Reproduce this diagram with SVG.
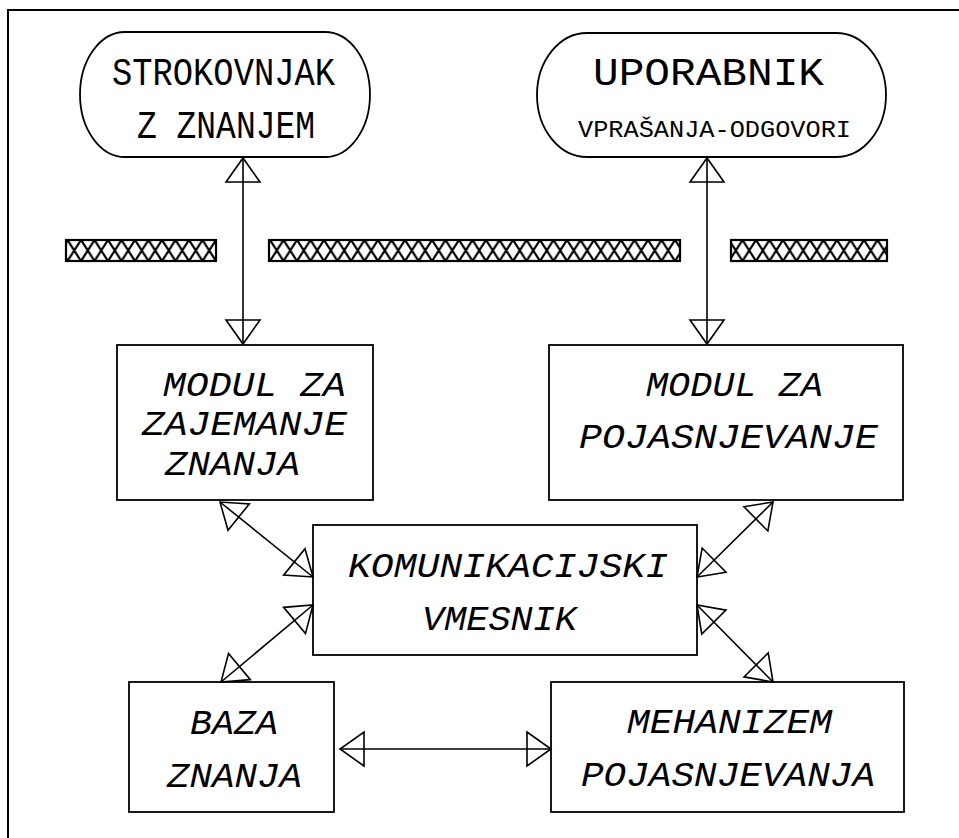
<svg xmlns="http://www.w3.org/2000/svg" width="959" height="838" viewBox="0 0 959 838">
<style>
.frame{fill:none;stroke:#000;stroke-width:2}
.box{fill:#fff;stroke:#000;stroke-width:1.8}
.t{font-family:"Liberation Mono","DejaVu Sans Mono",monospace;fill:#000}
.up{font-size:38px}
.sm{font-size:23px}
.it{font-size:35px;font-style:italic}
.con{stroke:#000;stroke-width:1.6;fill:none;marker-start:url(#tri);marker-end:url(#tri)}
.bar{fill:url(#hatch);stroke:#000;stroke-width:2.2}
</style>
<defs>
<marker id="tri" markerUnits="userSpaceOnUse" markerWidth="28" markerHeight="38" viewBox="-26 -19 28 38" refX="0" refY="0" orient="auto-start-reverse" overflow="visible">
<path d="M-24,-17 L0,0 L-24,17 Z" fill="none" stroke="#000" stroke-width="1.6" stroke-linejoin="miter"/>
</marker>
<pattern id="hatch" patternUnits="userSpaceOnUse" x="0" y="240" width="13.5" height="21">
<rect width="13.5" height="21" fill="#fff"/>
<path d="M0,0 L13.5,21 M13.5,0 L0,21" stroke="#000" stroke-width="2.2"/>
</pattern>
</defs>
<rect width="959" height="838" fill="#fff"/>
<g id="frame">
<path class="frame" d="M8,838 L8,10 L959,10"/>
</g>
<g id="barriers">
<rect class="bar" x="66" y="240" width="150" height="21"/>
<rect class="bar" x="269" y="240" width="411" height="21"/>
<rect class="bar" x="731" y="240" width="156" height="21"/>
</g>
<g id="strokovnjak">
<rect class="box" x="80" y="32" width="290" height="125" rx="45" ry="62.5"/>
<text class="t up" x="112" y="85" textLength="223" lengthAdjust="spacingAndGlyphs">STROKOVNJAK</text>
<text class="t up" x="137" y="138" textLength="178" lengthAdjust="spacingAndGlyphs">Z ZNANJEM</text>
</g>
<g id="uporabnik">
<rect class="box" x="537" y="33" width="349" height="124" rx="50" ry="62"/>
<text class="t up" x="593" y="85" textLength="231" lengthAdjust="spacingAndGlyphs">UPORABNIK</text>
<text class="t sm" x="578" y="137" textLength="273" lengthAdjust="spacingAndGlyphs">VPRAŠANJA-ODGOVORI</text>
</g>
<g id="modul-zajemanje">
<rect class="box" x="117" y="345" width="256" height="155"/>
<text class="t it" x="163" y="396" textLength="183" lengthAdjust="spacingAndGlyphs">MODUL ZA</text>
<text class="t it" x="142" y="435" textLength="205" lengthAdjust="spacingAndGlyphs">ZAJEMANJE</text>
<text class="t it" x="165" y="475" textLength="135" lengthAdjust="spacingAndGlyphs">ZNANJA</text>
</g>
<g id="modul-pojasnjevanje">
<rect class="box" x="549" y="345" width="354" height="155"/>
<text class="t it" x="646" y="396" textLength="177" lengthAdjust="spacingAndGlyphs">MODUL ZA</text>
<text class="t it" x="579" y="448" textLength="299" lengthAdjust="spacingAndGlyphs">POJASNJEVANJE</text>
</g>
<g id="komunikacijski-vmesnik">
<rect class="box" x="313" y="525" width="384" height="130"/>
<text class="t it" x="348" y="577" textLength="320" lengthAdjust="spacingAndGlyphs">KOMUNIKACIJSKI</text>
<text class="t it" x="422" y="630" textLength="155" lengthAdjust="spacingAndGlyphs">VMESNIK</text>
</g>
<g id="baza-znanja">
<rect class="box" x="129" y="682" width="205" height="130"/>
<text class="t it" x="190" y="734" textLength="88" lengthAdjust="spacingAndGlyphs">BAZA</text>
<text class="t it" x="167" y="787" textLength="135" lengthAdjust="spacingAndGlyphs">ZNANJA</text>
</g>
<g id="mehanizem-pojasnjevanja">
<rect class="box" x="551" y="682" width="353" height="130"/>
<text class="t it" x="627" y="733" textLength="205" lengthAdjust="spacingAndGlyphs">MEHANIZEM</text>
<text class="t it" x="581" y="786" textLength="294" lengthAdjust="spacingAndGlyphs">POJASNJEVANJA</text>
</g>
<g id="connectors">
<line class="con" x1="243" y1="158" x2="243" y2="344"/>
<line class="con" x1="707" y1="158" x2="707" y2="344"/>
<line class="con" x1="220" y1="502" x2="313" y2="577"/>
<line class="con" x1="773" y1="502" x2="697" y2="577"/>
<line class="con" x1="313" y1="605" x2="221" y2="682"/>
<line class="con" x1="697" y1="605" x2="773" y2="682"/>
<line class="con" x1="340" y1="749" x2="551" y2="749"/>
</g>
</svg>
